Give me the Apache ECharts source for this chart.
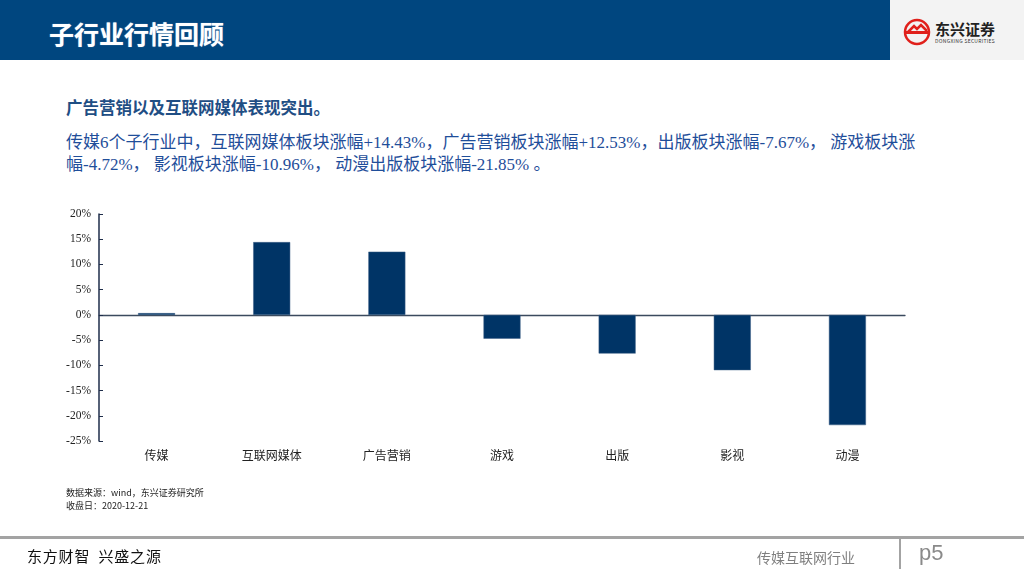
<!DOCTYPE html>
<html>
<head>
<meta charset="utf-8">
<script src="https://cdn.jsdelivr.net/npm/echarts@6/dist/echarts.min.js"></script>
<style>
  html, body { margin:0; padding:0; width:1024px; height:576px; overflow:hidden; background:#fff; font-family:"Noto Sans CJK SC", sans-serif; }
  .abs { position:absolute; white-space:nowrap; }
  #header { left:0; top:0; width:890px; height:60px; background:#00467f; }
  #logoBox { left:890px; top:0; width:134px; height:60px; background:#f3f3f3; }
  #title { left:49px; top:15px; font-size:25px; font-weight:bold; color:#fff; line-height:36px; text-shadow:0 0 1px #8fb0d0; }
  #sub { left:66px; top:96px; font-size:16.5px; font-weight:bold; color:#1f4e84; line-height:22px; }
  .body { left:66px; font-family:"Liberation Serif","Noto Sans CJK SC",serif; font-size:17px; color:#1f4e9a; line-height:22px; }
  .src { left:66px; font-size:9px; color:#222; line-height:12px; }
  #chart { position:absolute; left:0; top:0; width:1024px; height:576px; }
</style>
</head>
<body>
<div class="abs" id="header"></div>
<div class="abs" id="logoBox">
  <svg width="134" height="60" style="position:absolute;left:0;top:0">
    <circle cx="27" cy="32" r="12" fill="none" stroke="#e0201b" stroke-width="2.5"/>
    <path d="M17 33 L24 26 L27 29 L31 25 L37 31" fill="none" stroke="#e0201b" stroke-width="2.5"/>
    <rect x="15" y="31" width="24" height="3" fill="#e0201b"/>
  </svg>
  <div class="abs" style="left:45px;top:20px;font-size:15px;font-weight:bold;color:#222;line-height:18px;">东兴证券</div>
  <div class="abs" style="left:45px;top:38px;font-size:5px;color:#333;line-height:6px;letter-spacing:0.3px;">DONGXING SECURITIES</div>
</div>
<div class="abs" id="title">子行业行情回顾</div>
<div class="abs" id="sub">广告营销以及互联网媒体表现突出。</div>
<div class="abs body" style="top:132px;">传媒6个子行业中，互联网媒体板块涨幅+14.43%，广告营销板块涨幅+12.53%，出版板块涨幅-7.67%， 游戏板块涨</div>
<div class="abs body" style="top:154px;">幅-4.72%， 影视板块涨幅-10.96%， 动漫出版板块涨幅-21.85% 。</div>
<div id="chart"></div>
<div class="abs src" style="top:487px;">数据来源：wind，东兴证券研究所</div>
<div class="abs src" style="top:500px;">收盘日：2020-12-21</div>
<div class="abs" style="left:0;top:536px;width:1024px;height:3px;background:#a3a3a3;"></div>
<div class="abs" style="left:27px;top:546px;font-size:15px;color:#111;line-height:20px;letter-spacing:0.8px;">东方财智&nbsp; 兴盛之源</div>
<div class="abs" style="left:757px;top:548px;font-size:14px;color:#7f7f7f;line-height:18px;">传媒互联网行业</div>
<div class="abs" style="left:899px;top:539px;width:2px;height:30px;background:#a3a3a3;"></div>
<div class="abs" style="left:919px;top:539px;font-size:22px;color:#8a8a8a;line-height:28px;font-family:'Liberation Sans',sans-serif;">p5</div>
<script>
var categories = ['传媒', '互联网媒体', '广告营销', '游戏', '出版', '影视', '动漫'];
var values = [0.35, 14.43, 12.53, -4.72, -7.67, -10.96, -21.85];
var yMin = -25, yMax = 20, yStep = 5;

var chart = echarts.init(document.getElementById('chart'));
var serif = '"Liberation Serif","Noto Sans CJK SC",serif';
chart.setOption({
  animation: false,
  grid: { left: 99, right: 119, top: 214, bottom: 135 },
  xAxis: [
    {
      type: 'category', data: categories, position: 'bottom',
      axisLine: { show: false, onZero: false }, axisTick: { show: false },
      axisLabel: { margin: 10, fontSize: 12, color: '#222', fontFamily: serif }
    },
    {
      type: 'category', data: categories, position: 'bottom',
      axisLine: { show: true, onZero: true, lineStyle: { color: '#3b4a5e', width: 1.3 } },
      axisTick: { show: false }, axisLabel: { show: false }
    }
  ],
  yAxis: {
    type: 'value', min: yMin, max: yMax, interval: yStep,
    axisLine: { show: true, lineStyle: { color: '#1e2d4a', width: 1.5 } },
    axisTick: { show: true, inside: true, length: 4, lineStyle: { color: '#1e2d4a' } },
    splitLine: { show: false },
    axisLabel: { margin: 8, fontSize: 11.5, color: '#222', fontFamily: serif, formatter: '{value}%' }
  },
  series: [{
    type: 'bar', data: values, barWidth: 37, xAxisIndex: 0,
    itemStyle: { color: '#003466', borderColor: '#3c5f86', borderWidth: 0.5 }
  }]
});
</script>
</body>
</html>
